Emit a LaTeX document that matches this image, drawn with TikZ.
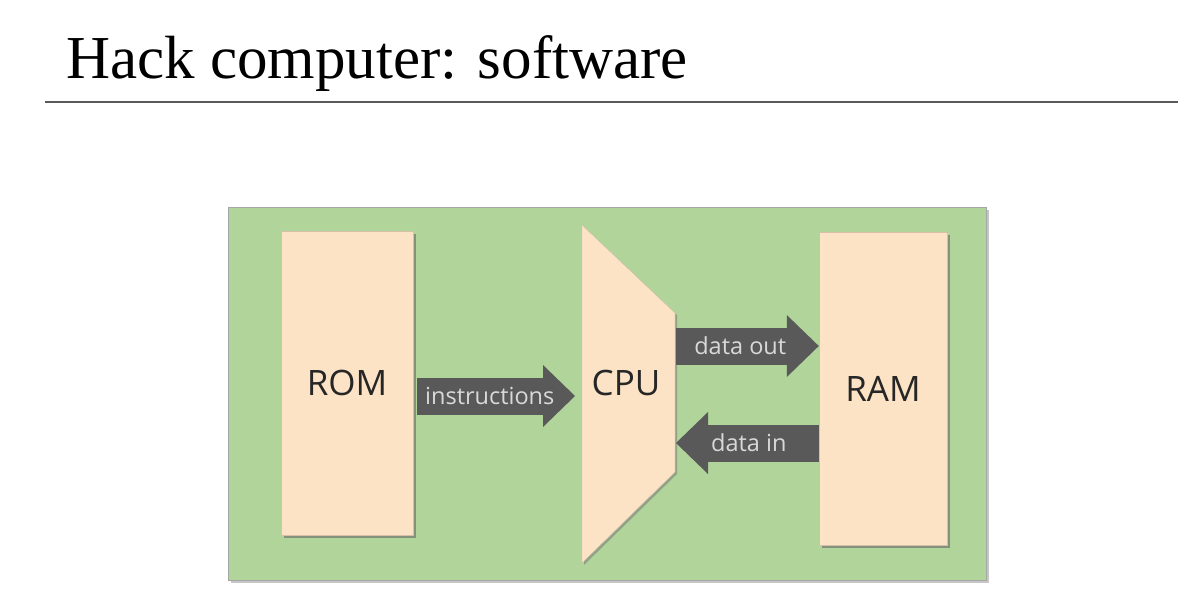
\documentclass[tikz,border=0pt]{standalone}
\usepackage{fontspec}
\setmainfont{Liberation Serif}
\newfontfamily\diagfont{Open Sans}
\usetikzlibrary{positioning, arrows.meta, shadows}

\definecolor{boardgreen}{HTML}{B1D49B}
\definecolor{peach}{HTML}{FCE3C6}
\definecolor{arrowgray}{HTML}{595959}
\definecolor{lblgray}{HTML}{D9D9D9}

\begin{document}
\begin{tikzpicture}[x=1pt, y=-1pt,
        unit/.style={draw=peach!85!black, line width=0.4pt, fill=peach, inner sep=0pt,
            drop shadow={shadow xshift=3pt, shadow yshift=-3pt, opacity=.6, fill=black!60},
            font=\diagfont\fontsize{35}{38}\selectfont, text=black!85},
        flow/.style={line width=37pt, draw=arrowgray,
            -{Triangle[length=32pt, width=62pt, line width=0pt]}},
        lbl/.style={font=\diagfont\fontsize{23.5}{26}\selectfont, text=lblgray}]
        \useasboundingbox (0,0) rectangle (1178,614);

        \node[anchor=base west, inner sep=0pt, font=\fontsize{61}{70}\selectfont] (title) at (66,78) {Hack computer: software};
        \draw[line width=2.8pt, black!65] (45,102) -- (1178,102);

        \draw[fill=boardgreen, draw=black!35, line width=0.6pt,
            drop shadow={shadow xshift=3pt, shadow yshift=-3pt, opacity=.45, fill=black!50}]
            (228,207) rectangle (986,580);

        \node[unit, minimum width=132pt, minimum height=304pt] (rom) at (347,383) {ROM};
        \node[unit, minimum width=128pt, minimum height=313pt] (ram) at (883,388.5) {RAM};

        \coordinate (cpu nw) at (582,225);
        \coordinate (cpu ne) at (675,313);
        \coordinate (cpu se) at (675,472);
        \coordinate (cpu sw) at (582,563);
        \filldraw[fill=peach, draw=peach!85!black, line width=0.4pt,
            drop shadow={shadow xshift=2pt, shadow yshift=-2pt, opacity=.5, fill=black!55}]
            (cpu nw) -- (cpu ne) -- (cpu se) -- (cpu sw) -- cycle;
        \node[font=\diagfont\fontsize{35}{38}\selectfont, text=black!85] (cpu) at (626,383) {CPU};

        \coordinate (ins tip) at (575,396);

        \draw[flow] ([shift={(4,13)}]rom.east) -- (ins tip) node[lbl, pos=.46] {instructions};
        \draw[flow] ([shift={(1,33)}]cpu ne) -- ([shift={(0,-42.5)}]ram.west) node[lbl, pos=.45] {data out};
        \draw[flow] ([shift={(0,54.5)}]ram.west) -- ([shift={(1,130)}]cpu ne) node[lbl, pos=.49] {data in};
    \end{tikzpicture}
\end{document}
